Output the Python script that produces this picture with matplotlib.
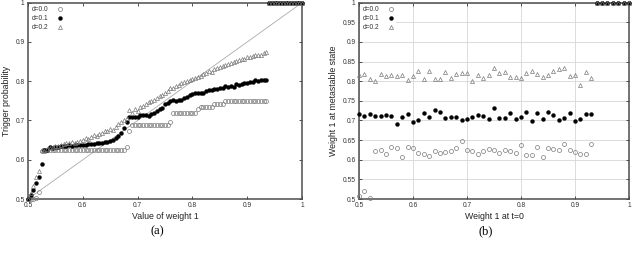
import matplotlib
matplotlib.use("Agg")
import matplotlib.pyplot as plt

# ---------------- data: panel (a) ----------------
xa = [0.500, 0.505, 0.510, 0.515, 0.520, 0.525, 0.530, 0.535, 0.540, 0.545,
      0.550, 0.555, 0.560, 0.565, 0.570, 0.575, 0.580, 0.585, 0.590, 0.595,
      0.600, 0.605, 0.610, 0.615, 0.620, 0.625, 0.630, 0.635, 0.640, 0.645,
      0.650, 0.655, 0.660, 0.665, 0.670, 0.675, 0.680, 0.685, 0.690, 0.695,
      0.700, 0.705, 0.710, 0.715, 0.720, 0.725, 0.730, 0.735, 0.740, 0.745,
      0.750, 0.755, 0.760, 0.765, 0.770, 0.775, 0.780, 0.785, 0.790, 0.795,
      0.800, 0.805, 0.810, 0.815, 0.820, 0.825, 0.830, 0.835, 0.840, 0.845,
      0.850, 0.855, 0.860, 0.865, 0.870, 0.875, 0.880, 0.885, 0.890, 0.895,
      0.900, 0.905, 0.910, 0.915, 0.920, 0.925, 0.930, 0.935, 0.940, 0.945,
      0.950, 0.955, 0.960, 0.965, 0.970, 0.975, 0.980, 0.985, 0.990, 0.995,
      1.000]

a_d00 = [0.500, 0.500, 0.500, 0.502, 0.518, 0.622, 0.625, 0.625, 0.625, 0.625,
         0.625, 0.625, 0.625, 0.625, 0.625, 0.625, 0.625, 0.625, 0.625, 0.625,
         0.625, 0.625, 0.625, 0.625, 0.625, 0.625, 0.625, 0.625, 0.625, 0.625,
         0.625, 0.625, 0.625, 0.625, 0.625, 0.625, 0.632, 0.672, 0.688, 0.688,
         0.688, 0.688, 0.688, 0.688, 0.688, 0.688, 0.688, 0.688, 0.688, 0.688,
         0.688, 0.688, 0.696, 0.720, 0.720, 0.720, 0.720, 0.720, 0.720, 0.720,
         0.720, 0.720, 0.730, 0.735, 0.735, 0.735, 0.735, 0.735, 0.742, 0.742,
         0.742, 0.742, 0.749, 0.750, 0.750, 0.750, 0.750, 0.750, 0.750, 0.750,
         0.750, 0.750, 0.750, 0.750, 0.750, 0.750, 0.750, 0.750, 1.000, 1.000,
         1.000, 1.000, 1.000, 1.000, 1.000, 1.000, 1.000, 1.000, 1.000, 1.000,
         1.000]

a_d01 = [0.500, 0.510, 0.522, 0.542, 0.555, 0.588, 0.626, 0.625, 0.632, 0.630,
         0.632, 0.633, 0.634, 0.636, 0.635, 0.637, 0.635, 0.637, 0.637, 0.638,
         0.637, 0.638, 0.640, 0.641, 0.641, 0.642, 0.643, 0.642, 0.645, 0.646,
         0.648, 0.650, 0.655, 0.661, 0.668, 0.680, 0.695, 0.709, 0.709, 0.710,
         0.710, 0.713, 0.714, 0.714, 0.712, 0.716, 0.720, 0.724, 0.728, 0.733,
         0.741, 0.745, 0.749, 0.752, 0.750, 0.751, 0.753, 0.756, 0.760, 0.765,
         0.768, 0.769, 0.769, 0.770, 0.771, 0.775, 0.778, 0.777, 0.780, 0.780,
         0.783, 0.784, 0.787, 0.785, 0.788, 0.786, 0.792, 0.791, 0.794, 0.795,
         0.796, 0.797, 0.799, 0.802, 0.801, 0.802, 0.802, 0.803, 1.000, 1.000,
         1.000, 1.000, 1.000, 1.000, 1.000, 1.000, 1.000, 1.000, 1.000, 1.000,
         1.000]

a_d02 = [0.500, 0.515, 0.533, 0.555, 0.572, 0.625, 0.622, 0.628, 0.630, 0.632,
         0.634, 0.636, 0.637, 0.640, 0.642, 0.643, 0.644, 0.643, 0.646, 0.648,
         0.650, 0.656, 0.652, 0.658, 0.662, 0.660, 0.666, 0.668, 0.672, 0.674,
         0.678, 0.676, 0.684, 0.690, 0.695, 0.700, 0.706, 0.726, 0.718, 0.730,
         0.724, 0.735, 0.738, 0.742, 0.748, 0.750, 0.752, 0.756, 0.762, 0.766,
         0.770, 0.776, 0.782, 0.784, 0.788, 0.791, 0.796, 0.797, 0.800, 0.803,
         0.806, 0.808, 0.811, 0.814, 0.818, 0.820, 0.825, 0.823, 0.830, 0.834,
         0.837, 0.838, 0.842, 0.845, 0.846, 0.849, 0.851, 0.853, 0.857, 0.856,
         0.861, 0.862, 0.864, 0.866, 0.868, 0.867, 0.872, 0.875, 1.000, 1.000,
         1.000, 1.000, 1.000, 1.000, 1.000, 1.000, 1.000, 1.000, 1.000, 1.000,
         1.000]

# ---------------- data: panel (b) ----------------
xb = [0.50, 0.51, 0.52, 0.53, 0.54, 0.55, 0.56, 0.57, 0.58, 0.59,
      0.60, 0.61, 0.62, 0.63, 0.64, 0.65, 0.66, 0.67, 0.68, 0.69,
      0.70, 0.71, 0.72, 0.73, 0.74, 0.75, 0.76, 0.77, 0.78, 0.79,
      0.80, 0.81, 0.82, 0.83, 0.84, 0.85, 0.86, 0.87, 0.88, 0.89,
      0.90, 0.91, 0.92, 0.93, 0.94, 0.95, 0.96, 0.97, 0.98, 0.99,
      1.00]

b_d00 = [0.508, 0.520, 0.502, 0.623, 0.626, 0.615, 0.632, 0.629, 0.606, 0.633,
         0.629, 0.616, 0.615, 0.609, 0.621, 0.618, 0.620, 0.623, 0.629, 0.649,
         0.625, 0.622, 0.615, 0.622, 0.628, 0.626, 0.617, 0.625, 0.621, 0.618,
         0.637, 0.612, 0.612, 0.633, 0.606, 0.630, 0.628, 0.626, 0.639, 0.626,
         0.620, 0.614, 0.614, 0.639, 1.000, 1.000, 1.000, 1.000, 1.000, 1.000,
         1.000]

b_d01 = [0.716, 0.712, 0.716, 0.711, 0.711, 0.713, 0.711, 0.690, 0.709, 0.717,
         0.696, 0.701, 0.720, 0.709, 0.727, 0.722, 0.706, 0.708, 0.708, 0.701,
         0.703, 0.709, 0.713, 0.711, 0.705, 0.733, 0.707, 0.707, 0.718, 0.705,
         0.709, 0.722, 0.699, 0.719, 0.705, 0.722, 0.715, 0.702, 0.707, 0.720,
         0.699, 0.704, 0.716, 0.716, 1.000, 1.000, 1.000, 1.000, 1.000, 1.000,
         1.000]

b_d02 = [0.816, 0.819, 0.805, 0.800, 0.818, 0.813, 0.816, 0.813, 0.816, 0.803,
         0.814, 0.827, 0.806, 0.826, 0.806, 0.806, 0.824, 0.808, 0.819, 0.820,
         0.821, 0.801, 0.817, 0.808, 0.817, 0.834, 0.821, 0.823, 0.811, 0.811,
         0.808, 0.822, 0.826, 0.819, 0.810, 0.817, 0.826, 0.830, 0.834, 0.813,
         0.817, 0.790, 0.824, 0.807, 1.000, 1.000, 1.000, 1.000, 1.000, 1.000,
         1.000]

labels = ["d=0.0", "d=0.1", "d=0.2"]
xticks = [0.5, 0.6, 0.7, 0.8, 0.9, 1.0]
xticklabels = ["0.5", "0.6", "0.7", "0.8", "0.9", "1"]
a_yticks = [0.5, 0.6, 0.7, 0.8, 0.9, 1.0]
a_yticklabels = ["0.5", "0.6", "0.7", "0.8", "0.9", "1"]
b_yticks = [0.5, 0.55, 0.6, 0.65, 0.7, 0.75, 0.8, 0.85, 0.9, 0.95, 1.0]
b_yticklabels = ["0.5", "0.55", "0.6", "0.65", "0.7", "0.75", "0.8", "0.85",
                 "0.9", "0.95", "1"]

# ---------------- figure ----------------
plt.rcParams['font.family'] = ['Liberation Sans', 'DejaVu Sans']
fig = plt.figure(figsize=(6.4, 2.57), dpi=100)

ax1 = fig.add_axes([28/640, 1-199/257, (302-28)/640, (199-2.7)/257])
ax2 = fig.add_axes([359/640, 1-199/257, (629-359)/640, (199-2.7)/257])

frame_col = "#4d4d4d"
styles = [
    dict(marker='o', mfc='none', mec='#7a7a7a', mew=0.5, ms=2.9, ls='none'),
    dict(marker='o', mfc='black', mec='black', mew=0.3, ms=2.8, ls='none'),
    dict(marker='^', mfc='none', mec='#7a7a7a', mew=0.5, ms=2.9, ls='none'),
]

def setup(ax, yt, ytl):
    ax.set_xlim(0.5, 1.0)
    ax.set_ylim(0.5, 1.0)
    ax.set_xticks(xticks)
    ax.set_xticklabels(xticklabels)
    ax.set_yticks(yt)
    ax.set_yticklabels(ytl)
    ax.tick_params(direction='in', length=2.5, width=0.6, labelsize=4.8,
                   top=True, right=True, pad=2.5, colors='#333333')
    for s in ax.spines.values():
        s.set_color(frame_col)
        s.set_linewidth(1.1)

def legend(ax, handles, white):
    leg = ax.legend(handles=handles, loc='upper left', markerfirst=False,
                    fontsize=4.8, frameon=white, handlelength=1.0,
                    handletextpad=1.3, labelspacing=0.3, borderpad=0.3,
                    borderaxespad=0.2)
    if white:
        leg.get_frame().set_facecolor('white')
        leg.get_frame().set_edgecolor('none')
        leg.get_frame().set_alpha(1.0)
    for t in leg.get_texts():
        t.set_color('#333333')

# panel (a)
ax1.plot([0.5, 1.0], [0.5, 1.0], color='#aaaaaa', lw=0.6, zorder=1)
h = []
for ys, st, lb in zip([a_d00, a_d01, a_d02], styles, labels):
    ln, = ax1.plot(xa, ys, clip_on=False, zorder=3, label=lb, **st)
    h.append(ln)
setup(ax1, a_yticks, a_yticklabels)
legend(ax1, h, False)
ax1.set_xlabel("Value of weight 1", fontsize=6.3, labelpad=2, color='#222222')
ax1.set_ylabel("Trigger probability", fontsize=6.3, labelpad=3, color='#222222')

# panel (b)
ax2.grid(True, color='#d6d6d6', lw=0.6)
ax2.set_axisbelow(True)
h = []
for ys, st, lb in zip([b_d00, b_d01, b_d02], styles, labels):
    ln, = ax2.plot(xb, ys, clip_on=False, zorder=3, label=lb, **st)
    h.append(ln)
setup(ax2, b_yticks, b_yticklabels)
legend(ax2, h, True)
ax2.set_xlabel("Weight 1 at t=0", fontsize=6.3, labelpad=2, color='#222222')
ax2.set_ylabel("Weight 1 at metastable state", fontsize=6.3, labelpad=3, color='#222222')

fig.text(157/640, 1-231/257, "(a)", family='Liberation Serif', fontsize=9,
         ha='center', va='center')
fig.text(486/640, 1-231/257, "(b)", family='Liberation Serif', fontsize=9,
         ha='center', va='center')

fig.savefig("out.png", dpi=100)
